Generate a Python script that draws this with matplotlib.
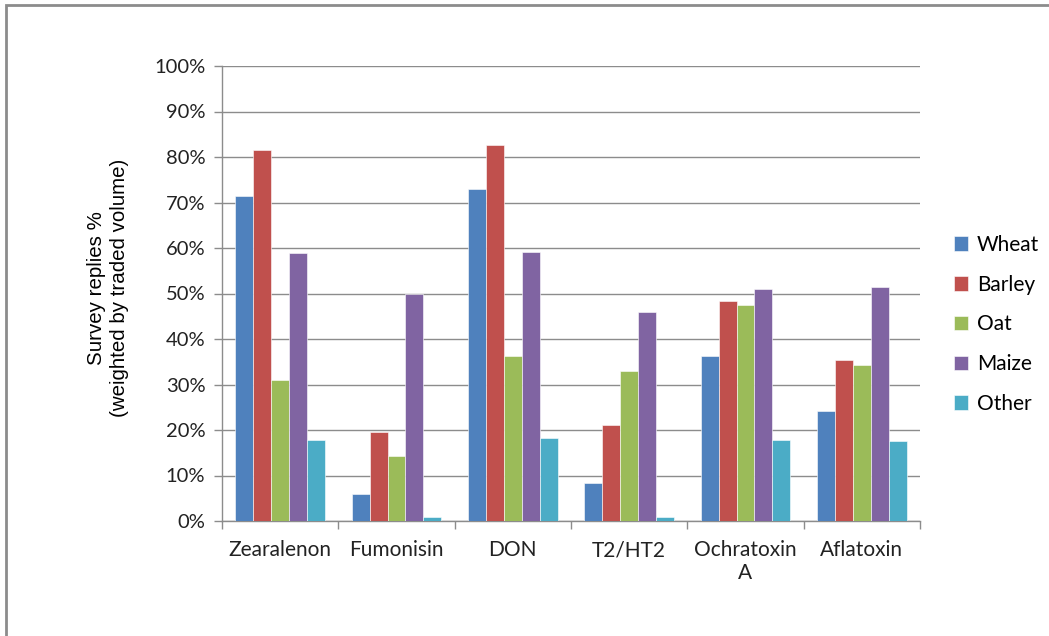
import numpy as np
import matplotlib
matplotlib.use("Agg")
import matplotlib.pyplot as plt
from matplotlib.patches import Rectangle

# data (percent of survey replies)
toxins = ["Zearalenon", "Fumonisin", "DON", "T2/HT2", "Ochratoxin\nA", "Aflatoxin"]
crops = ["Wheat", "Barley", "Oat", "Maize", "Other"]
wheat = [71.5, 6.0, 72.9, 8.4, 36.3, 24.2]
barley = [81.5, 19.5, 82.7, 21.2, 48.4, 35.4]
oat = [30.9, 14.2, 36.3, 33.0, 47.5, 34.2]
maize = [58.9, 50.0, 59.1, 45.9, 51.0, 51.4]
other = [17.9, 0.9, 18.2, 0.9, 17.9, 17.5]

series = [wheat, barley, oat, maize, other]
colors = ["#4F81BD", "#C0504D", "#9BBB59", "#8064A2", "#4BACC6"]

plt.rcParams['font.family'] = ['Lato', 'DejaVu Sans']

fig = plt.figure(figsize=(10.49, 6.36), dpi=100)
ax = fig.add_axes([222 / 1049, 1 - 521 / 636, 698 / 1049, 455 / 636])

# outer chart frame
fig.patches.append(Rectangle((6 / 1049, -0.01), 1.1, 1 - 5 / 636 + 0.01,
                             transform=fig.transFigure, fill=False,
                             edgecolor='#8c8c8c', linewidth=2))

x = np.arange(len(toxins))
bw = 1 / 6.5
for i, (vals, c) in enumerate(zip(series, colors)):
    ax.bar(x + (i - 2) * bw, vals, width=bw, color=c, label=crops[i],
           edgecolor='white', linewidth=0.4, zorder=3)

ax.set_xlim(-0.5, len(toxins) - 0.5)
ax.set_ylim(0, 100)
ax.set_yticks(np.arange(0, 101, 10))
ax.set_yticklabels([f"{v}%" for v in range(0, 101, 10)], fontsize=14.5, color='#222222')
ax.yaxis.grid(True, color='#8c8c8c', linewidth=1, zorder=0)

ax.set_xticks(x)
ax.set_xticklabels(toxins, fontsize=15, color='#222222', linespacing=1.15)
ax.set_xticks(np.arange(-0.5, len(toxins)), minor=True)
ax.tick_params(axis='x', which='major', length=0, pad=14)
ax.tick_params(axis='x', which='minor', length=6, color='#8c8c8c', width=1)
ax.tick_params(axis='y', length=6, color='#8c8c8c', width=1, pad=6)

for s in ['top', 'right']:
    ax.spines[s].set_visible(False)
for s in ['left', 'bottom']:
    ax.spines[s].set_color('#8c8c8c')
    ax.spines[s].set_linewidth(1)

fig.text(108 / 1049, 1 - 288 / 636, "Survey replies %\n(weighted by traded volume)",
         rotation=90, ha='center', va='center', fontsize=14.8,
         family=['Liberation Sans'], linespacing=1.3)

fig.legend(loc='upper left', bbox_to_anchor=(935 / 1049, 1 - 216 / 636),
           frameon=False, fontsize=15, handlelength=0.7, handleheight=0.7,
           handletextpad=0.4, labelspacing=0.95)

plt.savefig("out.png", dpi=100)
